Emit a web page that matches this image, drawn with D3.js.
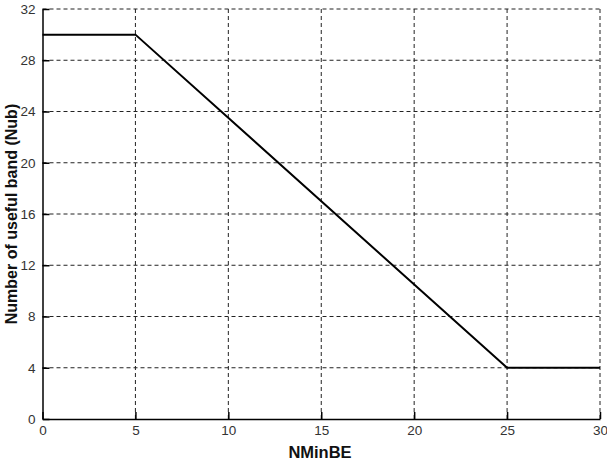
<!DOCTYPE html>
<html><head><meta charset="utf-8">
<script src="https://cdn.jsdelivr.net/npm/d3@7"></script>
<style>body{margin:0;background:#fff}svg{display:block}</style>
</head><body>
<svg id="c" width="607" height="463"></svg>
<script>
const nMinBE = [0, 5, 25, 30];
const nub = [30, 30, 4, 4];
const xTicks = [0, 5, 10, 15, 20, 25, 30];
const yTicks = [0, 4, 8, 12, 16, 20, 24, 28, 32];

const svg = d3.select("#c");
const m = {l: 42.5, r: 600, t: 9, b: 419};
const x = d3.scaleLinear().domain([0, 30]).range([m.l, m.r]);
const y = d3.scaleLinear().domain([0, 32]).range([m.b, m.t]);
const font = "Liberation Sans, Arial, sans-serif";

// grid
const g = svg.append("g");
g.selectAll(".vx").data(xTicks.filter(d => d > 0)).join("line")
  .attr("x1", d => x(d)).attr("x2", d => x(d)).attr("y1", m.t).attr("y2", m.b)
  .attr("stroke", "#222").attr("stroke-width", 1).attr("stroke-dasharray", "4,3");
g.selectAll(".hy").data(yTicks.filter(d => d > 0)).join("line")
  .attr("x1", m.l).attr("x2", m.r).attr("y1", d => y(d)).attr("y2", d => y(d))
  .attr("stroke", "#222").attr("stroke-width", 1).attr("stroke-dasharray", "4,3");

// axes
const xa = svg.append("g").attr("transform", `translate(0,${m.b})`)
  .call(d3.axisBottom(x).tickValues(xTicks).tickSizeInner(-7).tickSizeOuter(0).tickPadding(6));
const ya = svg.append("g").attr("transform", `translate(${m.l},0)`)
  .call(d3.axisLeft(y).tickValues(yTicks).tickSizeInner(-7).tickSizeOuter(0).tickPadding(7));
[xa, ya].forEach(a => {
  a.select(".domain").attr("stroke", "#000").attr("stroke-width", 1.5);
  a.selectAll(".tick line").attr("stroke", "#000").attr("stroke-width", 1.5);
  a.selectAll("text").attr("font-family", font).attr("font-size", 13.5).attr("fill", "#333");
});

// line
svg.append("path")
  .datum(nMinBE.map((d, i) => [d, nub[i]]))
  .attr("d", d3.line().x(d => x(d[0])).y(d => y(d[1])))
  .attr("fill", "none").attr("stroke", "#000").attr("stroke-width", 2);

// labels
svg.append("text").attr("x", 320).attr("y", 458).attr("text-anchor", "middle")
  .attr("font-family", font).attr("font-size", 16.5).attr("font-weight", "bold").attr("fill", "#111")
  .text("NMinBE");
svg.append("text").attr("transform", `translate(17,${(m.t + m.b) / 2}) rotate(-90)`)
  .attr("text-anchor", "middle").attr("font-family", font).attr("font-size", 16)
  .attr("font-weight", "bold").attr("fill", "#111").text("Number of useful band (Nub)");
</script>
</body></html>
